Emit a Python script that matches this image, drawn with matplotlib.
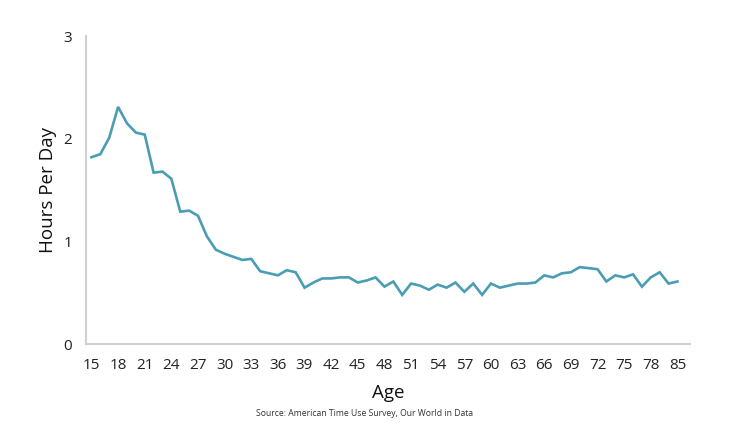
import matplotlib.pyplot as plt

# ATUS ages are top-coded: 80 stands for 80-84, 85 for 85+
ages = list(range(15, 81)) + [85]
hours = [
    1.82, 1.85, 2.01, 2.31, 2.15, 2.06, 2.04, 1.67, 1.68, 1.61,
    1.29, 1.30, 1.25, 1.05, 0.92, 0.88, 0.85, 0.82, 0.83, 0.71,
    0.69, 0.67, 0.72, 0.70, 0.55, 0.60, 0.64, 0.64, 0.65, 0.65,
    0.60, 0.62, 0.65, 0.56, 0.61, 0.48, 0.59, 0.57, 0.53, 0.58,
    0.55, 0.60, 0.51, 0.59, 0.48, 0.59, 0.55, 0.57, 0.59, 0.59,
    0.60, 0.67, 0.65, 0.69, 0.70, 0.75, 0.74, 0.73, 0.61, 0.67,
    0.65, 0.68, 0.56, 0.65, 0.70, 0.59, 0.61,
]
y_ticks = [0, 1, 2, 3]

fig = plt.figure(figsize=(7.3, 4.34), dpi=100)
ax = fig.add_axes([0.118, 0.207, 0.827, 0.710])

pos = list(range(len(ages)))
ax.plot(pos, hours, color="#4a9db3", linewidth=1.9, solid_joinstyle="miter")

ax.set_xlim(-0.6, 67.4)
ax.set_ylim(0, 3)
ax.set_xticks(pos[::3])
ax.set_xticklabels([str(a) for a in ages[::3]], fontsize=11, family="Open Sans", color="#222222")
ax.set_yticks(y_ticks)
ax.set_yticklabels([str(t) for t in y_ticks], fontsize=11, family="Open Sans", color="#222222")
ax.tick_params(length=0, pad=10)

for side in ["top", "right"]:
    ax.spines[side].set_visible(False)
for side in ["left", "bottom"]:
    ax.spines[side].set_color("#d0d0d0")
    ax.spines[side].set_linewidth(1.5)

ax.set_xlabel("Age", fontsize=13.5, family="Open Sans", labelpad=8, color="#111111")
ax.set_ylabel("Hours Per Day", fontsize=13.5, family="Open Sans", labelpad=5, color="#111111")

fig.text(0.5, 0.048, "Source: American Time Use Survey, Our World in Data",
         ha="center", va="center", fontsize=6.2, family="Open Sans", color="#333333")

fig.savefig("out.png", dpi=100)
plt.close(fig)
